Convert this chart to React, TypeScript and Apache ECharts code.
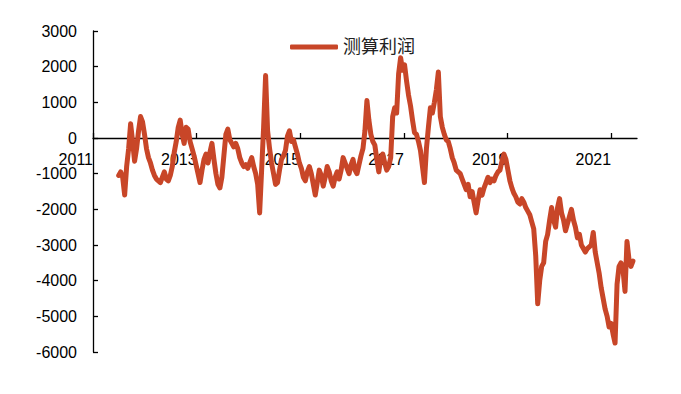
import React, { useEffect, useRef } from "react";
import * as echarts from "echarts";

// Biweekly estimated profit values
const profit: number[] = [
  -1050, -950, -1100, -1600, -800, -300, 400, -100, -650, -300,
  200, 600, 450, 100, -300, -550, -700, -900, -1050, -1150,
  -1200, -1250, -1100, -950, -1150, -1200, -1050, -800, -400, -100,
  300, 500, 100, -150, 300, 250, -100, -300, -500, -750,
  -1000, -1250, -900, -600, -450, -700, -400, -150, -600, -1000,
  -1300, -1400, -1100, -500, 100, 250, -50, -150, -250, -150,
  -300, -550, -700, -800, -750, -850, -700, -550, -800, -1000,
  -1300, -2100, -900, 300, 1750, 200, -300, -700, -1000, -1300,
  -1250, -900, -600, -500, -350, 50, 200, -100, -50, -250,
  -450, -700, -850, -1100, -1200, -950, -800, -1000, -1300, -1600,
  -1250, -900, -1050, -1350, -1100, -800, -950, -1200, -1350, -1100,
  -950, -1150, -900, -550, -700, -850, -1000, -750, -600, -900,
  -1000, -750, -500, -300, 200, 1050, 500, 100, -100, -200,
  -600, -950, -550, -450, -700, -900, -800, -550, 600, 850,
  700, 1800, 2250, 1900, 2050, 1600, 1200, 900, 500, 150,
  100, -100, -350, -800, -1250, -300, 300, 850, 700, 1000,
  1350, 1850, 600, 300, 100, -50, -100, -300, -550, -700,
  -900, -950, -1000, -1150, -1300, -1450, -1300, -1650, -1500, -1800,
  -2100, -1750, -1450, -1600, -1400, -1250, -1100, -1250, -1150, -1200,
  -1050, -950, -900, -650, -450, -600, -900, -1200, -1400, -1550,
  -1650, -1800, -1850, -1700, -1800, -1950, -2050, -2150, -2350, -2550,
  -3300, -4650, -4000, -3600, -3500, -2900, -2700, -2300, -1950, -2300,
  -2500, -1950, -1700, -2100, -2300, -2600, -2400, -2200, -2000, -2300,
  -2500, -2800, -2700, -3000, -3100, -3200, -3100, -3050, -3000, -2650,
  -3200, -3500, -3800, -4200, -4500, -4800, -5000, -5300, -5200, -5500,
  -5750, -4100, -3600, -3500, -3700, -4300, -2900, -3400, -3600, -3450,
];

// Dates: first observation mid-2011, one observation every 14 days
const firstDate = new Date(2011, 6, 1);
const stepDays = 14;
const seriesName = "测算利润";

const xMin = 2011;
const xMax = 2021.5;
const xInterval = 2;
const yMin = -6000;
const yMax = 3000;
const yInterval = 1000;

function toDecimalYear(d: Date): number {
  const y = d.getFullYear();
  const start = new Date(y, 0, 1).getTime();
  const end = new Date(y + 1, 0, 1).getTime();
  return y + (d.getTime() - start) / (end - start);
}

const points: [number, number][] = profit.map((v, i) => {
  const d = new Date(firstDate.getTime() + i * stepDays * 86400000);
  return [toDecimalYear(d), v];
});

const FONT = "'Liberation Sans', Arial, 'Noto Sans CJK SC', sans-serif";

export default function App() {
  const ref = useRef<HTMLDivElement>(null);
  useEffect(() => {
    if (!ref.current) return;
    const chart = echarts.init(ref.current, undefined, { renderer: "svg" });
    chart.setOption({
      animation: false,
      backgroundColor: "#ffffff",
      textStyle: { fontFamily: FONT },
      legend: {
        left: 285,
        top: 33,
        itemWidth: 48,
        itemHeight: 5,
        icon: "roundRect",
        itemGap: 10,
        textStyle: { fontSize: 18, color: "#222", fontFamily: FONT },
        data: [seriesName],
      },
      grid: { left: 93, right: 44, top: 31, bottom: 42, containLabel: false },
      xAxis: {
        type: "value",
        min: xMin,
        max: xMax,
        interval: xInterval,
        splitLine: { show: false },
        axisLine: { onZero: true, lineStyle: { color: "#000", width: 1.3 } },
        axisTick: { show: true, inside: true, length: 5, lineStyle: { color: "#000", width: 1.3 } },
        axisLabel: {
          fontSize: 16,
          color: "#000",
          fontFamily: FONT,
          align: "right",
          margin: -201,
          formatter: (v: number) => String(Math.round(v)),
        },
      },
      yAxis: {
        type: "value",
        min: yMin,
        max: yMax,
        interval: yInterval,
        splitLine: { show: false },
        axisLine: { show: true, lineStyle: { color: "#000", width: 1.3 } },
        axisTick: { show: true, inside: true, length: 5, lineStyle: { color: "#000", width: 1.3 } },
        axisLabel: {
          fontSize: 16,
          color: "#000",
          fontFamily: FONT,
          margin: 16,
          formatter: (v: number) => String(v),
        },
      },
      series: [
        {
          name: seriesName,
          type: "line",
          data: points,
          showSymbol: false,
          symbol: "none",
          color: "#C84628",
          lineStyle: { width: 5, color: "#C84628", join: "round", cap: "round" },
          z: 5,
        },
      ],
    });
    return () => chart.dispose();
  }, []);
  return (
    <div
      ref={ref}
      style={{ position: "absolute", left: 0, top: 0, width: 681, height: 394 }}
    />
  );
}
